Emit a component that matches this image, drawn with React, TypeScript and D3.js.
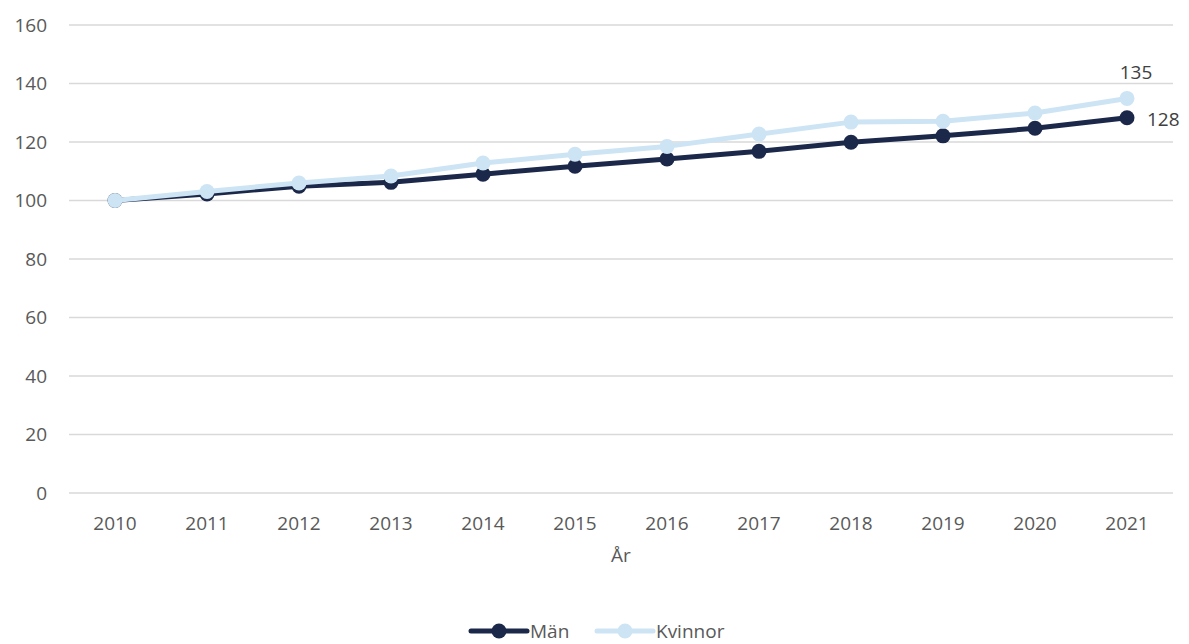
import React from "react";
import * as d3 from "d3";

const years = ["2010", "2011", "2012", "2013", "2014", "2015", "2016", "2017", "2018", "2019", "2020", "2021"];
const man = [100, 102.2, 104.9, 106.2, 109.0, 111.7, 114.2, 116.8, 119.9, 122.1, 124.7, 128.3];
const kvinnor = [100, 103.1, 106.0, 108.4, 112.8, 115.8, 118.5, 122.7, 126.8, 127.1, 129.9, 134.9];
const yTicks = [0, 20, 40, 60, 80, 100, 120, 140, 160];

const W = 1189, H = 644;
const FONT = "'Open Sans', sans-serif";
const FS = 19;
const TXT = "#595959";
const DARK = "#1b2849";
const LIGHT = "#cde4f4";

export default function App() {
  const x = d3.scaleBand().domain(years).range([69, 1173]);
  const y = d3.scaleLinear().domain([0, 160]).range([493, 25]);
  const cx = (d: string) => (x(d) as number) + x.bandwidth() / 2;
  const line = d3.line<number>().x((_, i) => cx(years[i])).y((v) => y(v));
  const series = [
    { name: "Män", values: man, color: DARK, label: "128", lx: 1147, ly: 119, anchor: "start" },
    { name: "Kvinnor", values: kvinnor, color: LIGHT, label: "135", lx: 1136, ly: 72, anchor: "middle" },
  ];
  const legend = [
    { name: "Män", color: DARK, x0: 471 },
    { name: "Kvinnor", color: LIGHT, x0: 597 },
  ];
  const LY = 631;
  return (
    <svg width={W} height={H} style={{ position: "absolute", left: 0, top: 0, background: "#fff" }}>
      {yTicks.map((t) => (
        <g key={t}>
          <line x1={69} x2={1173} y1={y(t)} y2={y(t)} stroke="#d9d9d9" strokeWidth={1.5} />
          <text x={47} y={y(t)} dy="0.35em" textAnchor="end" fontFamily={FONT} fontSize={FS} fill={TXT}>{t}</text>
        </g>
      ))}
      {years.map((yr) => (
        <text key={yr} x={cx(yr)} y={523} dy="0.35em" textAnchor="middle" fontFamily={FONT} fontSize={FS} fill={TXT}>{yr}</text>
      ))}
      <text x={621} y={555} dy="0.35em" textAnchor="middle" fontFamily={FONT} fontSize={FS} fill={TXT}>År</text>
      {series.map((s) => (
        <g key={s.name}>
          <path d={line(s.values) || ""} fill="none" stroke={s.color} strokeWidth={5} strokeLinejoin="round" />
          {s.values.map((v, i) => (
            <circle key={i} cx={cx(years[i])} cy={y(v)} r={7.5} fill={s.color} />
          ))}
          <text x={s.lx} y={s.ly} dy="0.35em" textAnchor={s.anchor as any} fontFamily={FONT} fontSize={FS} fill="#404040">{s.label}</text>
        </g>
      ))}
      {legend.map((l) => (
        <g key={l.name}>
          <line x1={l.x0} x2={l.x0 + 56} y1={LY} y2={LY} stroke={l.color} strokeWidth={5} strokeLinecap="round" />
          <circle cx={l.x0 + 28} cy={LY} r={7.5} fill={l.color} />
          <text x={l.x0 + 59} y={LY} dy="0.35em" fontFamily={FONT} fontSize={FS} fill={TXT}>{l.name}</text>
        </g>
      ))}
    </svg>
  );
}
